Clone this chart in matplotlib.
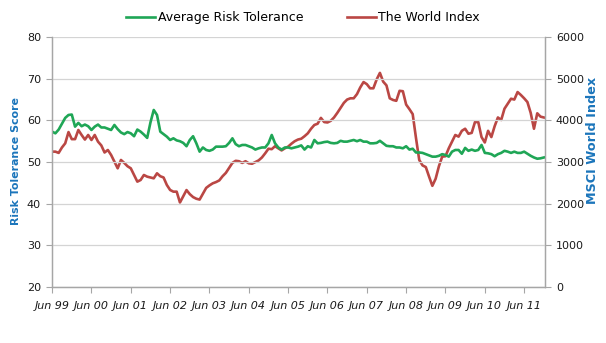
import matplotlib
matplotlib.use("Agg")
import matplotlib.pyplot as plt
import numpy as np

# Monthly observations, June 1999 through December 2011
risk_tolerance = [
    57.3, 56.9, 57.8, 59.2, 60.6, 61.3, 61.4, 58.5, 59.4, 58.6,
    59.0, 58.6, 57.7, 58.5, 59.0, 58.3, 58.3, 58.0, 57.7, 58.9,
    57.9, 57.1, 56.7, 57.2, 56.9, 56.2, 57.8, 57.3, 56.6, 55.8,
    59.5, 62.5, 61.3, 57.3, 56.7, 56.1, 55.3, 55.7, 55.2, 55.0,
    54.6, 53.8, 55.3, 56.2, 54.5, 52.5, 53.5, 52.9, 52.7, 53.0,
    53.7, 53.7, 53.7, 53.8, 54.6, 55.7, 54.3, 53.8, 54.1, 54.1,
    53.8, 53.5, 53.0, 53.3, 53.5, 53.5, 54.5, 56.5, 54.5, 53.5,
    53.0, 53.5, 53.5, 53.3, 53.5, 53.7, 54.0, 53.0, 53.8, 53.5,
    55.3, 54.5, 54.6, 54.8, 54.9, 54.6, 54.5, 54.6, 55.1, 54.9,
    54.9, 55.1, 55.3, 55.0, 55.3, 54.9, 54.9, 54.5, 54.5, 54.6,
    55.1, 54.5, 53.9, 53.8, 53.8, 53.5, 53.5, 53.3, 53.8, 53.0,
    53.2, 52.3, 52.3, 52.2, 51.9, 51.6, 51.3, 51.3, 51.5, 51.9,
    51.7, 51.3, 52.5, 52.9, 52.9, 52.0, 53.4, 52.7, 53.0, 52.7,
    52.9, 54.1, 52.2, 52.1, 51.9, 51.4, 51.9, 52.2, 52.7, 52.5,
    52.2, 52.5, 52.2, 52.2, 52.5, 52.0, 51.5, 51.1, 50.8, 50.9,
    51.1,
]

world_index = [
    3250, 3250, 3220, 3350, 3450, 3720, 3550, 3550, 3770, 3650,
    3540, 3650, 3530, 3650, 3490, 3400, 3230, 3290, 3170, 3010,
    2850, 3050, 2980, 2900, 2850, 2690, 2530, 2570, 2690, 2650,
    2630, 2610, 2730, 2660, 2630, 2450, 2330, 2290, 2290, 2030,
    2180, 2328, 2230, 2160, 2120, 2100, 2240, 2380, 2440, 2490,
    2520, 2560, 2660, 2740, 2860, 2980, 3030, 3020, 2980, 3020,
    2970, 2960, 3000, 3040, 3110, 3210, 3320, 3310, 3380, 3330,
    3280, 3330, 3370, 3440, 3500, 3540, 3560, 3620, 3690, 3800,
    3890, 3920, 4060, 3960, 3950, 3990, 4070, 4180, 4300, 4420,
    4500, 4530, 4530, 4630, 4790, 4920, 4870, 4770, 4770, 4980,
    5140, 4930, 4840, 4530, 4490, 4470, 4710, 4700, 4380, 4270,
    4150, 3580, 3050, 2920, 2880, 2650, 2430, 2600, 2900, 3130,
    3140, 3330, 3490, 3650, 3610, 3750, 3800, 3680, 3700, 3960,
    3960, 3600, 3470, 3750, 3600, 3860, 4070, 4010, 4280, 4400,
    4520, 4500, 4680, 4610, 4530, 4440, 4180, 3800, 4170, 4090,
    4070,
]

tick_labels = ["Jun 99", "Jun 00", "Jun 01", "Jun 02", "Jun 03", "Jun 04",
               "Jun 05", "Jun 06", "Jun 07", "Jun 08", "Jun 09", "Jun 10",
               "Jun 11"]

GREEN = "#1FA656"
RED = "#BA4744"
BLUE = "#1B75BB"
GRID = "#D4D4D4"
AXIS = "#A6A6A6"
TEXT = "#1A1A1A"

plt.rcParams["font.family"] = ["DejaVu Sans"]

fig = plt.figure(figsize=(6.06, 3.43), dpi=100)
ax = fig.add_axes([0.086, 0.163, 0.813, 0.729])
ax2 = ax.twinx()

months = np.arange(len(risk_tolerance))

ax.set_ylim(20, 80)
ax.set_yticks(np.arange(20, 81, 10))
ax2.set_ylim(0, 6000)
ax2.set_yticks(np.arange(0, 6001, 1000))
ax.set_xlim(0, 150.3)
ax.set_xticks(np.arange(0, 12 * len(tick_labels), 12))
ax.set_xticklabels(tick_labels, fontsize=7.6, style="italic", color=TEXT)

ax.grid(axis="y", color=GRID, linewidth=0.9)
ax.set_axisbelow(True)

l2, = ax2.plot(months, world_index, color=RED, linewidth=1.9,
               label="The World Index", solid_joinstyle="round")
l1, = ax.plot(months, risk_tolerance, color=GREEN, linewidth=1.9,
              label="Average Risk Tolerance", solid_joinstyle="round")
# keep the green series on top of the red one
ax.set_zorder(ax2.get_zorder() + 1)
ax.patch.set_visible(False)

for a in (ax, ax2):
    a.spines["top"].set_visible(False)
    for side in ("left", "right", "bottom"):
        a.spines[side].set_color(AXIS)
        a.spines[side].set_linewidth(0.9)
    a.tick_params(colors=AXIS, labelcolor=TEXT, length=4, width=0.8,
                  labelsize=8)

ax.tick_params(axis="x", length=4, pad=6)
ax.tick_params(axis="y", pad=4)
ax2.tick_params(axis="y", pad=4)

ax.set_ylabel("Risk Tolerance Score", color=BLUE, fontsize=7.9,
              fontweight="bold")
ax.yaxis.set_label_coords(-0.063, 0.504)
ax2.set_ylabel("MSCI World Index", color=BLUE, fontsize=9.2,
               fontweight="bold", rotation=90)
ax2.yaxis.set_label_coords(1.083, 0.588)

fig.legend(handles=[l1, l2], loc="upper center", bbox_to_anchor=(0.5, 1.0),
           ncol=2, frameon=False, fontsize=9, handlelength=2.3,
           handletextpad=0.2, columnspacing=3.5)

fig.savefig("out.png", dpi=100)
